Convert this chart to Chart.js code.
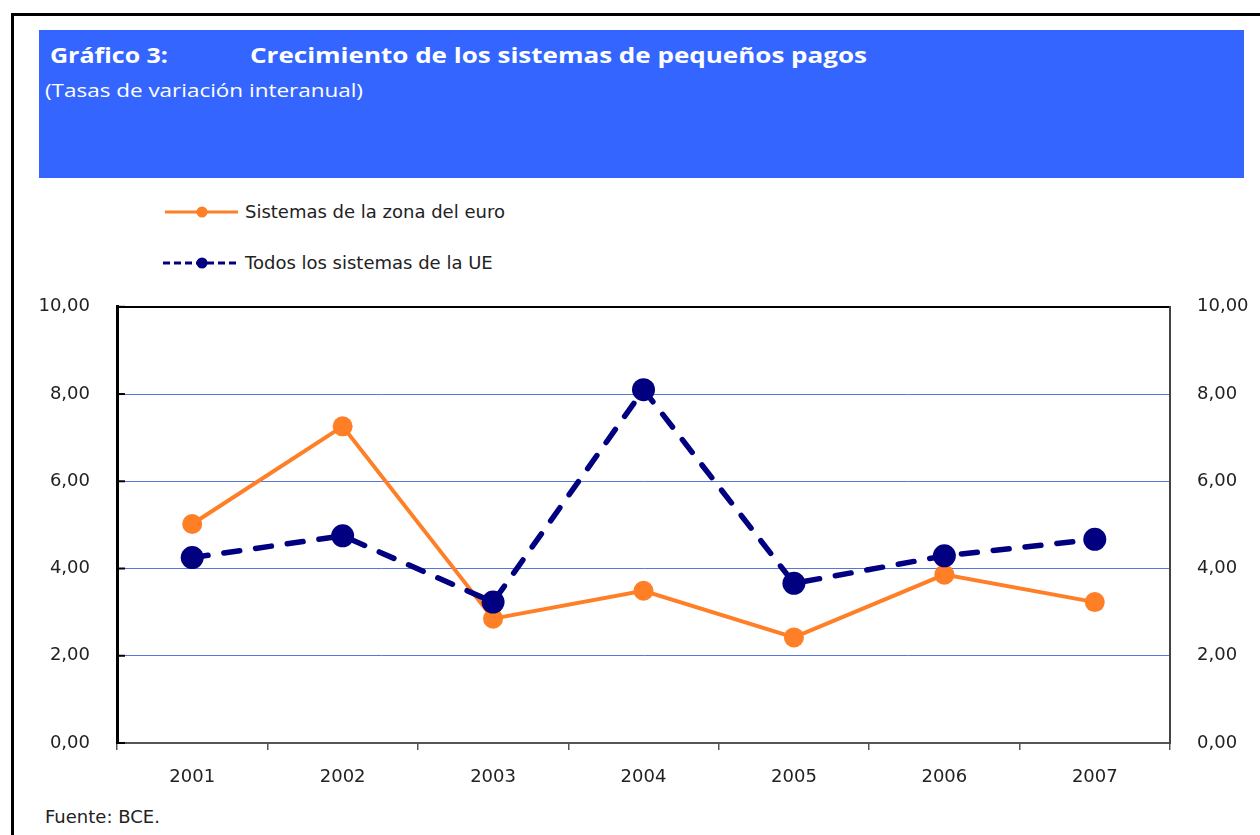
<!DOCTYPE html>
<html><head><meta charset="utf-8">
<script src="https://cdn.jsdelivr.net/npm/chart.js@4.4.1/dist/chart.umd.min.js"></script>
<style>
html,body{margin:0;padding:0;background:#fff;}
body{width:1260px;height:835px;position:relative;overflow:hidden;}
#frame{position:absolute;left:11px;top:13px;width:1260px;height:840px;border-left:3px solid #000;border-top:3px solid #000;}
#band{position:absolute;left:39px;top:30px;width:1205px;height:148px;background:#3466FF;}
.t{position:absolute;white-space:nowrap;transform-origin:0 0;}
#t1{left:50px;top:43px;font:700 22px/22px 'Open Sans',sans-serif;color:#fff;}
#t2{left:250px;top:43px;font:700 22px/22px 'Open Sans',sans-serif;color:#fff;}
#sub{left:45px;top:81px;font:400 18px/18px 'Open Sans',sans-serif;color:#fff;}
.legtxt{font:400 18px/18px 'DejaVu Sans',sans-serif;color:#222;left:245px;}
#l1{top:203px;} #l2{top:254px;}
.legsym{position:absolute;left:160px;}
#s1{top:202px;} #s2{top:253px;}
#chartwrap{position:absolute;left:0;top:269px;width:1260px;height:531px;}
#foot{left:45px;top:808px;font:400 18px/18px 'DejaVu Sans',sans-serif;color:#222;}
</style></head>
<body>
<div id="frame"></div>
<div id="band"></div>
<div class="t" id="t1" data-w="118">Gráfico 3:</div>
<div class="t" id="t2" data-w="617">Crecimiento de los sistemas de pequeños pagos</div>
<div class="t" id="sub" data-w="318">(Tasas de variación interanual)</div>
<svg class="legsym" id="s1" width="85" height="20"><line x1="5" y1="10" x2="78" y2="10" stroke="#FF7F27" stroke-width="3"/><circle cx="42" cy="10" r="5.5" fill="#FF7F27"/></svg>
<svg class="legsym" id="s2" width="85" height="20"><line x1="3" y1="10" x2="80" y2="10" stroke="#000080" stroke-width="3" stroke-dasharray="7 4"/><circle cx="42" cy="10" r="5.5" fill="#000080"/></svg>
<div class="t legtxt" id="l1">Sistemas de la zona del euro</div>
<div class="t legtxt" id="l2">Todos los sistemas de la UE</div>
<div id="chartwrap"><canvas id="c" width="1260" height="531"></canvas></div>
<div class="t" id="foot">Fuente: BCE.</div>
<script>
const years = ['2001','2002','2003','2004','2005','2006','2007'];
const zonaEuro = [5.02, 7.26, 2.85, 3.49, 2.42, 3.86, 3.23];
const todosUE = [4.25, 4.75, 3.23, 8.10, 3.66, 4.29, 4.67];
const yMin = 0, yMax = 10, yStep = 2;

document.querySelectorAll('[data-w]').forEach(el => {
  const w = el.getBoundingClientRect().width;
  const target = parseFloat(el.dataset.w);
  if (w > 0) el.style.transform = 'scaleX(' + (target / w) + ')';
});

const fmt = v => Number(v).toFixed(2).replace('.', ',');
const tickFont = {family: 'DejaVu Sans', size: 18};
const tickColor = '#222';

const innerTicks = {
  id: 'innerTicks',
  afterDraw(chart) {
    const s = chart.scales.y, ctx = chart.ctx, a = chart.chartArea;
    ctx.save();
    ctx.strokeStyle = '#000';
    ctx.lineWidth = 2;
    s.ticks.forEach(t => {
      const y = s.getPixelForValue(t.value);
      ctx.beginPath(); ctx.moveTo(a.left, y); ctx.lineTo(a.left + 8, y); ctx.stroke();
    });
    ctx.restore();
  }
};

new Chart(document.getElementById('c'), {
  type: 'line',
  data: {
    labels: years,
    datasets: [
      {label: 'Sistemas de la zona del euro', data: zonaEuro, yAxisID: 'y', order: 1,
       borderColor: '#FF7F27', backgroundColor: '#FF7F27', borderWidth: 4, tension: 0,
       pointRadius: 10, pointBackgroundColor: '#FF7F27', pointBorderWidth: 0},
      {label: 'Todos los sistemas de la UE', data: todosUE, yAxisID: 'y', order: 0,
       borderColor: '#000080', backgroundColor: '#000080', borderWidth: 5.5, tension: 0,
       borderDash: [16, 16], borderCapStyle: 'round',
       pointRadius: 11.5, pointBackgroundColor: '#000080', pointBorderWidth: 0}
    ]
  },
  options: {
    responsive: false, animation: false, devicePixelRatio: 1,
    layout: {padding: {top: 15, left: 0, right: 0, bottom: 0}},
    plugins: {legend: {display: false}, tooltip: {enabled: false}},
    scales: {
      x: {
        type: 'category', offset: true,
        grid: {offset: true, drawOnChartArea: false, drawTicks: true, tickLength: 7, color: '#555', lineWidth: 1.5},
        border: {color: '#555', width: 2},
        ticks: {font: tickFont, color: tickColor, padding: 17, maxRotation: 0},
        afterFit(s) { s.height = 57; }
      },
      y: {
        position: 'left', min: yMin, max: yMax,
        ticks: {stepSize: yStep, callback: fmt, padding: 27, font: tickFont, color: tickColor},
        grid: {
          drawTicks: false,
          color: c => !c.tick ? '#5577DD' : (c.tick.value === yMax ? '#000' : (c.tick.value === yMin ? 'rgba(0,0,0,0)' : '#5577DD')),
          lineWidth: c => (c.tick && c.tick.value === yMax) ? 2 : 1
        },
        border: {color: '#000', width: 3},
        afterFit(s) { s.width = 117; }
      },
      y1: {
        position: 'right', min: yMin, max: yMax,
        ticks: {stepSize: yStep, callback: fmt, padding: 27, font: tickFont, color: tickColor},
        grid: {drawOnChartArea: false, drawTicks: false},
        border: {color: '#444', width: 2},
        afterFit(s) { s.width = 90; }
      }
    }
  },
  plugins: [innerTicks]
});
</script>
</body></html>
